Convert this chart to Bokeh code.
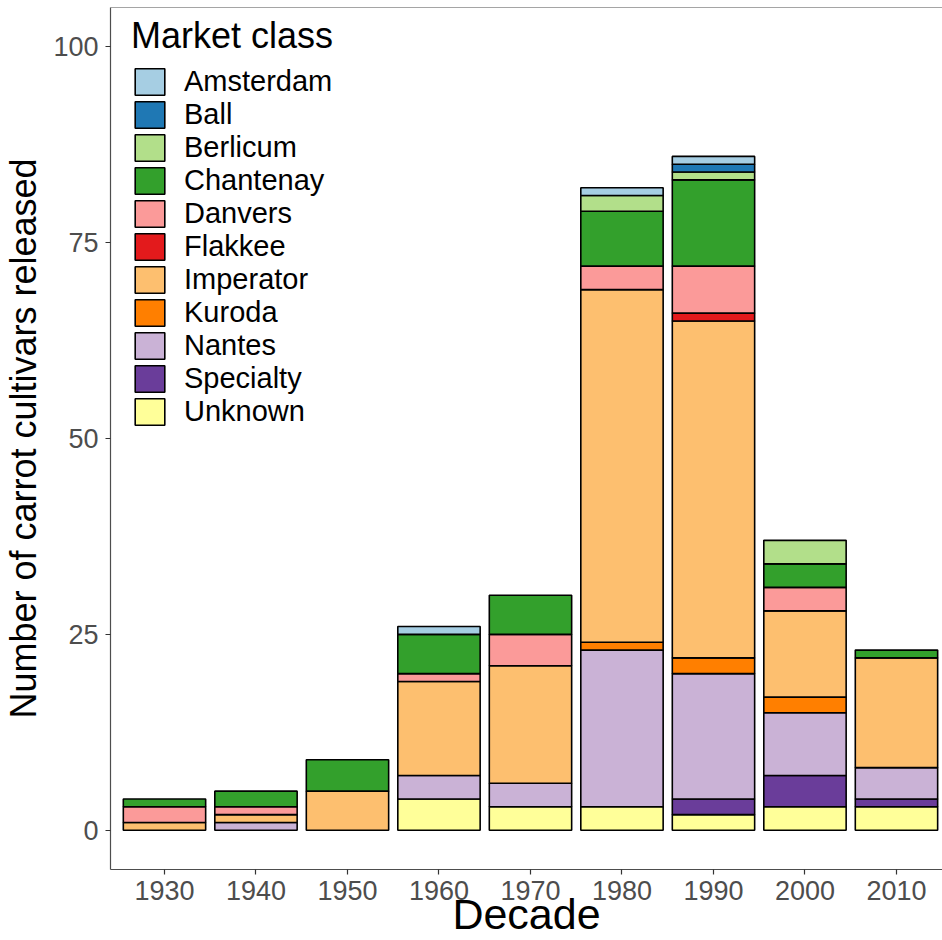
from bokeh.plotting import figure
from bokeh.models import (ColumnDataSource, Legend, LegendItem, Range1d,
                          FixedTicker, Span)
from bokeh.embed import file_html
from bokeh.resources import INLINE

decades = [1930, 1940, 1950, 1960, 1970, 1980, 1990, 2000, 2010]

# legend order (top to bottom)
classes = ["Amsterdam", "Ball", "Berlicum", "Chantenay", "Danvers", "Flakkee",
           "Imperator", "Kuroda", "Nantes", "Specialty", "Unknown"]

amsterdam = [0, 0, 0, 1, 0, 1, 1, 0, 0]
ball      = [0, 0, 0, 0, 0, 0, 1, 0, 0]
berlicum  = [0, 0, 0, 0, 0, 2, 1, 3, 0]
chantenay = [1, 2, 4, 5, 5, 7, 11, 3, 1]
danvers   = [2, 1, 0, 1, 4, 3, 6, 3, 0]
flakkee   = [0, 0, 0, 0, 0, 0, 1, 0, 0]
imperator = [1, 1, 5, 12, 15, 45, 43, 11, 14]
kuroda    = [0, 0, 0, 0, 0, 1, 2, 2, 0]
nantes    = [0, 1, 0, 3, 3, 20, 16, 8, 4]
specialty = [0, 0, 0, 0, 0, 0, 2, 4, 1]
unknown   = [0, 0, 0, 4, 3, 3, 2, 3, 3]

series = [amsterdam, ball, berlicum, chantenay, danvers, flakkee,
          imperator, kuroda, nantes, specialty, unknown]

colors = ["#A6CEE3", "#1F78B4", "#B2DF8A", "#33A02C", "#FB9A99", "#E31A1C",
          "#FDBF6F", "#FF7F00", "#CAB2D6", "#6A3D9A", "#FFFF99"]

y_ticks = [0, 25, 50, 75, 100]
y_lo, y_hi = -5, 105

FONT = "Liberation Sans"

p = figure(width=942, height=940, output_backend="svg", toolbar_location=None,
           x_range=Range1d(1924.1, 2015.03), y_range=Range1d(y_lo, y_hi),
           min_border_left=110, min_border_right=0, min_border_top=7,
           min_border_bottom=71)
p.xgrid.visible = False
p.ygrid.visible = False
p.outline_line_color = None
p.background_fill_color = "white"
p.add_layout(Span(location=y_hi, dimension="width", line_color="#4d4d4d",
                  line_width=1.2))

# stack from bottom (Unknown) to top (Amsterdam)
renderers = {}
cum = [0] * len(decades)
for name, vals, col in reversed(list(zip(classes, series, colors))):
    xs, bots, tops = [], [], []
    for i, v in enumerate(vals):
        if v > 0:
            xs.append(decades[i])
            bots.append(cum[i])
            tops.append(cum[i] + v)
        cum[i] += v
    src = ColumnDataSource(dict(x=xs, bottom=bots, top=tops))
    r = p.vbar(x="x", bottom="bottom", top="top", width=9, source=src,
               fill_color=col, line_color="black", line_width=1.6)
    renderers[name] = r

for ax in (p.xaxis[0], p.yaxis[0]):
    ax.axis_line_color = "#4d4d4d"
    ax.axis_line_width = 1.2
    ax.major_tick_out = 5
    ax.major_tick_in = 0
    ax.major_tick_line_color = "#333333"
    ax.major_tick_line_width = 1.2
    ax.minor_tick_line_color = None
    ax.major_label_text_font = FONT
    ax.major_label_text_font_size = "27px"
    ax.major_label_text_color = "#4d4d4d"
    ax.axis_label_text_font = FONT
    ax.axis_label_text_font_style = "normal"
    ax.axis_label_text_color = "black"

p.xaxis.ticker = FixedTicker(ticks=decades)
p.yaxis.ticker = FixedTicker(ticks=y_ticks)
p.xaxis.major_label_standoff = 6
p.yaxis.major_label_standoff = 7
p.xaxis.axis_label = "Decade"
p.yaxis.axis_label = "Number of carrot cultivars released"
p.xaxis.axis_label_text_font_size = "43px"
p.yaxis.axis_label_text_font_size = "36px"
p.xaxis.axis_label_standoff = -13
p.yaxis.axis_label_standoff = 6

items = [LegendItem(label=name, renderers=[renderers[name]]) for name in classes]
legend = Legend(items=items, location=(21, 441), title="Market class",
                glyph_width=37, glyph_height=33, label_height=30, spacing=0,
                padding=8, margin=0, border_line_color=None,
                background_fill_alpha=0,
                title_text_font=FONT, title_text_font_size="36px",
                title_text_font_style="normal", title_text_color="black",
                title_standoff=8,
                label_text_font=FONT, label_text_font_size="29px",
                label_text_color="black", label_standoff=16)
p.add_layout(legend)

open("out.html", "w").write(file_html(p, INLINE))
